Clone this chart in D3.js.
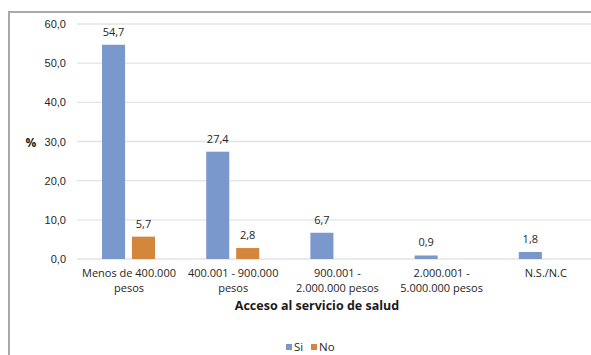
<!DOCTYPE html>
<html>
<head>
<meta charset="utf-8">
<script src="https://cdn.jsdelivr.net/npm/d3@7"></script>
<style>
  body { margin: 0; background: #fff; }
  svg { font-family: "Open Sans", "Noto Sans", sans-serif; }
  .axis text { fill: #262626; font-size: 11px; }
</style>
</head>
<body>
<div class="chart"></div>
<script>
var categories = [
    ["Menos de 400.000", "pesos"],
    ["400.001 - 900.000", "pesos"],
    ["900.001 -", "2.000.000 pesos"],
    ["2.000.001 -", "5.000.000 pesos"],
    ["N.S./N.C"]
];
var series = ["Si", "No"];
var siValues = [54.7, 27.4, 6.7, 0.9, 1.8];
var noValues = [5.7, 2.8, null, null, null];
var yTicks = [0, 10, 20, 30, 40, 50, 60];
var colors = ["#7b98cd", "#d5863d"];

function init() {
    var w = 591;
    var h = 355;
    var left = 77, right = 598, top = 24, bottom = 259;

    var svg = d3.select(".chart")
        .append("svg")
        .attr("width", w)
        .attr("height", h);

    // outer frame (runs off the right and bottom edges)
    svg.append("rect")
        .attr("x", 9)
        .attr("y", 12)
        .attr("width", 620)
        .attr("height", 400)
        .style("fill", "none")
        .style("stroke", "#a9a9a9")
        .style("stroke-width", 2);

    var xScale = d3.scaleBand()
        .domain(d3.range(categories.length))
        .range([left, right]);

    var inner = d3.scaleBand()
        .domain(series)
        .range([25, 78])
        .paddingInner(0.23);

    var yScale = d3.scaleLinear()
        .domain([0, 60])
        .range([bottom, top]);

    // gridlines
    svg.append("g")
        .selectAll("line")
        .data(yTicks)
        .enter()
        .append("line")
        .attr("x1", left)
        .attr("x2", right)
        .attr("y1", function (d) { return yScale(d); })
        .attr("y2", function (d) { return yScale(d); })
        .style("stroke", "#e3e3e3")
        .style("stroke-width", 1.3);

    var yAxis = d3.axisLeft(yScale)
        .tickValues(yTicks)
        .tickSize(0)
        .tickPadding(11)
        .tickFormat(function (d) { return d3.format(".1f")(d).replace(".", ","); });

    var gy = svg.append("g")
        .attr("class", "axis")
        .attr("transform", "translate(" + left + ",0)")
        .call(yAxis);
    gy.select(".domain").remove();

    var data = [];
    siValues.forEach(function (v, i) {
        data.push({ cat: i, s: "Si", v: v });
        if (noValues[i] != null) data.push({ cat: i, s: "No", v: noValues[i] });
    });

    svg.append("g")
        .selectAll("rect")
        .data(data)
        .enter()
        .append("rect")
        .attr("x", function (d) { return xScale(d.cat) + inner(d.s); })
        .attr("width", inner.bandwidth())
        .attr("y", function (d) { return yScale(d.v); })
        .attr("height", function (d) { return yScale(0) - yScale(d.v); })
        .style("fill", function (d) { return d.s == "Si" ? colors[0] : colors[1]; });

    // value labels
    svg.append("g")
        .selectAll("text")
        .data(data)
        .enter()
        .append("text")
        .attr("x", function (d) { return xScale(d.cat) + inner(d.s) + inner.bandwidth() / 2; })
        .attr("y", function (d) { return yScale(d.v) - 9; })
        .attr("text-anchor", "middle")
        .style("font-size", "11px")
        .style("fill", "#262626")
        .text(function (d) { return d3.format(".1f")(d.v).replace(".", ","); });

    // category labels
    var cl = svg.append("g")
        .selectAll("text")
        .data(categories)
        .enter()
        .append("text")
        .attr("x", function (d, i) { return xScale(i) + 52; })
        .attr("y", 277)
        .attr("text-anchor", "middle")
        .style("font-size", "11px")
        .style("fill", "#262626");
    cl.selectAll("tspan")
        .data(function (d) { return d; })
        .enter()
        .append("tspan")
        .attr("x", function () { return d3.select(this.parentNode).attr("x"); })
        .attr("dy", function (d, j) { return j == 0 ? 0 : 15; })
        .text(function (d) { return d; });

    svg.append("text")
        .attr("x", 317)
        .attr("y", 310)
        .attr("text-anchor", "middle")
        .style("font-size", "12.5px")
        .style("font-weight", "bold")
        .style("fill", "#1a1a1a")
        .text("Acceso al servicio de salud");

    svg.append("text")
        .attr("x", 31)
        .attr("y", 147)
        .attr("text-anchor", "middle")
        .style("font-size", "12px")
        .style("font-weight", "bold")
        .style("fill", "#1a1a1a")
        .text("%");

    // legend
    var lx = [286, 311];
    var leg = svg.append("g")
        .selectAll("g")
        .data(series)
        .enter()
        .append("g")
        .attr("transform", function (d, i) { return "translate(" + lx[i] + ",344)"; });
    leg.append("rect")
        .attr("width", 6)
        .attr("height", 6)
        .style("fill", function (d, i) { return colors[i]; });
    leg.append("text")
        .attr("x", 8)
        .attr("y", 7)
        .style("font-size", "11.5px")
        .style("fill", "#262626")
        .text(function (d) { return d; });
}

init();
</script>
</body>
</html>
